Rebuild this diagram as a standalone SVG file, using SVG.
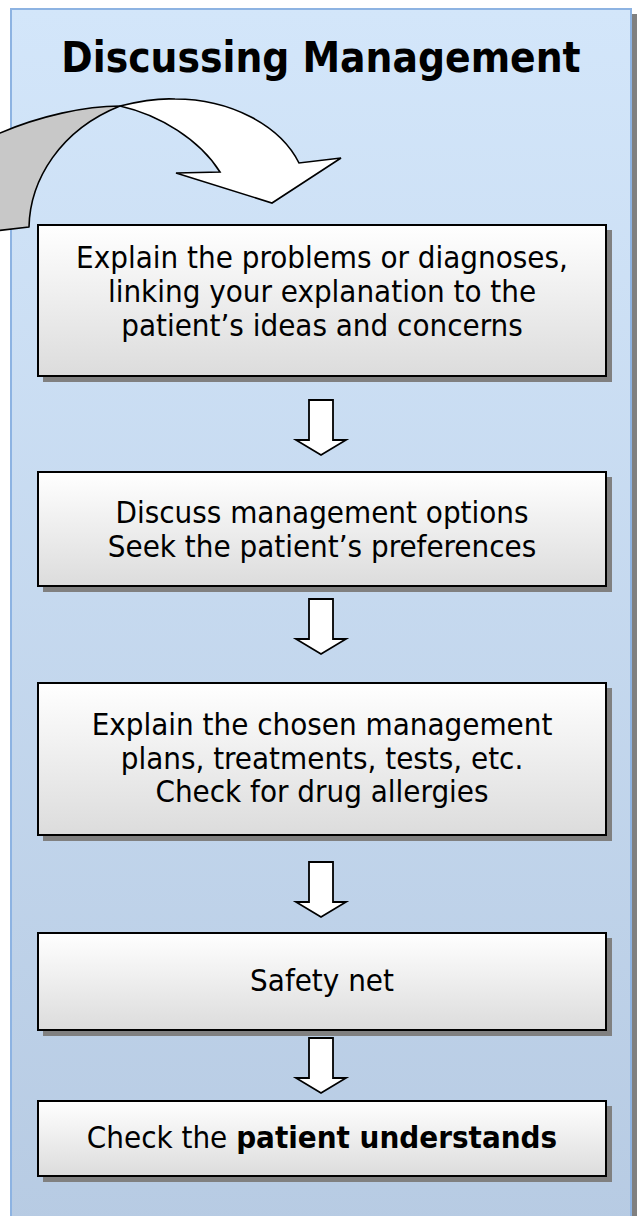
<svg xmlns="http://www.w3.org/2000/svg" width="637" height="1216" viewBox="0 0 637 1216">
<defs>
<linearGradient id="panelGrad" x1="0" y1="0" x2="0" y2="1">
<stop offset="0" stop-color="#d3e6fa"/>
<stop offset="1" stop-color="#b7cbe3"/>
</linearGradient>
<linearGradient id="boxGrad" x1="0" y1="0" x2="0" y2="1">
<stop offset="0" stop-color="#ffffff"/>
<stop offset="1" stop-color="#dcdcdc"/>
</linearGradient>
<style>
.shadow{fill:#808080;}
.box{fill:url(#boxGrad);stroke:#000;stroke-width:2;}
.txt{font-family:"DejaVu Sans Condensed","DejaVu Sans",sans-serif;font-size:31px;fill:#000;text-anchor:middle;}
.title{font-family:"DejaVu Sans Condensed","DejaVu Sans",sans-serif;font-size:42px;font-weight:bold;fill:#000;text-anchor:middle;}
.darrow{fill:#fff;stroke:#000;stroke-width:1.8;stroke-linejoin:miter;}
.b{font-weight:bold;}
</style>
</defs>
<rect x="0" y="0" width="637" height="1216" fill="#ffffff"/>
<g id="panel">
<rect x="16" y="14" width="630" height="1220" class="shadow"/>
<rect x="11" y="9" width="620" height="1220" fill="url(#panelGrad)" stroke="#8db3e2" stroke-width="2"/>
<text x="321" y="72" class="title">Discussing Management</text>
</g>
<g id="loop-arrow">
<path d="M-5,135 L0,133 C40,116 85,106 120,106 C60,130 30,180 29,227 L-5,231 Z" fill="#c8c8c8" stroke="#000" stroke-width="1.6" stroke-linejoin="round"/>
<path d="M120,106 C140,101 158,98 175,99 C230,99 280,125 299,163 L341,158 L272,203 L176,173 L220,172 C200,140 160,115 120,106 Z" fill="#fff" stroke="#000" stroke-width="1.6" stroke-linejoin="miter"/>
</g>
<g id="connectors">
<path class="darrow" d="M309,400 H333 V440 H346 L321,455 L296,440 H309 Z"/>
<path class="darrow" d="M309,599 H333 V639 H346 L321,654 L296,639 H309 Z"/>
<path class="darrow" d="M309,862 H333 V902 H346 L321,917 L296,902 H309 Z"/>
<path class="darrow" d="M309,1038 H333 V1078 H346 L321,1093 L296,1078 H309 Z"/>
</g>
<g id="node1">
<rect x="43" y="230" width="569" height="152" class="shadow"/>
<rect x="38" y="225" width="568" height="151" class="box"/>
<text class="txt" x="322" y="268">Explain the problems or diagnoses,</text>
<text class="txt" x="322" y="302">linking your explanation to the</text>
<text class="txt" x="322" y="336">patient’s ideas and concerns</text>
</g>
<g id="node2">
<rect x="43" y="477" width="569" height="115" class="shadow"/>
<rect x="38" y="472" width="568" height="114" class="box"/>
<text class="txt" x="322" y="523">Discuss management options</text>
<text class="txt" x="322" y="557">Seek the patient’s preferences</text>
</g>
<g id="node3">
<rect x="43" y="688" width="569" height="153" class="shadow"/>
<rect x="38" y="683" width="568" height="152" class="box"/>
<text class="txt" x="322" y="735">Explain the chosen management</text>
<text class="txt" x="322" y="769">plans, treatments, tests, etc.</text>
<text class="txt" x="322" y="802">Check for drug allergies</text>
</g>
<g id="node4">
<rect x="43" y="938" width="569" height="98" class="shadow"/>
<rect x="38" y="933" width="568" height="97" class="box"/>
<text class="txt" x="322" y="991">Safety net</text>
</g>
<g id="node5">
<rect x="43" y="1106" width="569" height="76" class="shadow"/>
<rect x="38" y="1101" width="568" height="75" class="box"/>
<text class="txt" x="322" y="1148">Check the <tspan class="b">patient understands</tspan></text>
</g>
</svg>
